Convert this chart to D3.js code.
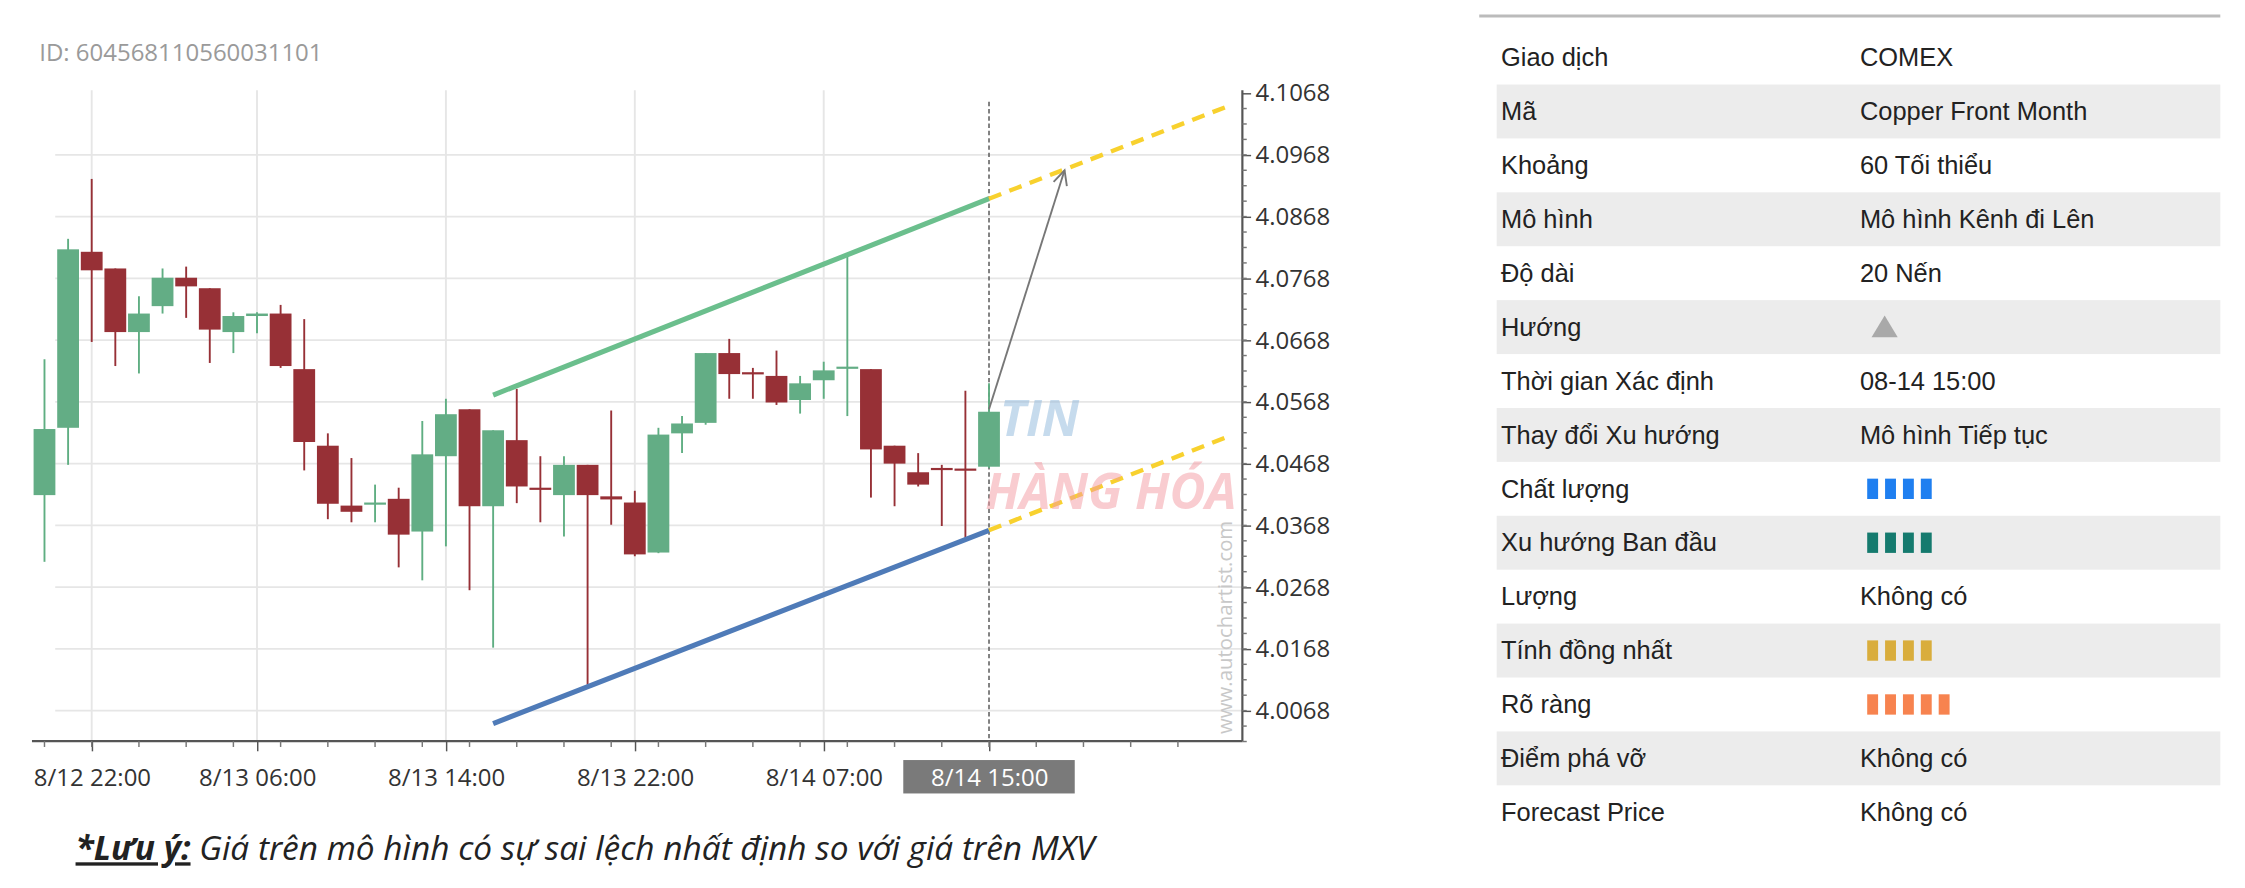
<!DOCTYPE html>
<html>
<head>
<meta charset="utf-8">
<script src="https://cdn.jsdelivr.net/npm/d3@7"></script>
<style>
  body { margin: 0; background: #fff; }
  text { font-family: "Open Sans", sans-serif; }
</style>
</head>
<body>
<div class="chart"></div>
<script>
// candle data (one per hour)
var opens  = [4.0417,4.0526,4.0811,4.0784,4.0681,4.0723,4.0769,4.0752,4.0681,4.0707,4.0711,4.0621,4.0497,4.0400,4.0403,4.0411,4.0358,4.0480,4.0556,4.0399,4.0506,4.0429,4.0417,4.0466,4.0415,4.0405,4.0324,4.0517,4.0534,4.0647,4.0616,4.0610,4.0571,4.0603,4.0623,4.0621,4.0497,4.0454,4.0461,4.0460,4.0463];
var highs  = [4.0637,4.0832,4.0929,4.0784,4.0739,4.0784,4.0787,4.0752,4.0713,4.0713,4.0725,4.0702,4.0517,4.0477,4.0434,4.0429,4.0537,4.0573,4.0556,4.0522,4.0589,4.0480,4.0480,4.0466,4.0554,4.0424,4.0526,4.0545,4.0647,4.0670,4.0623,4.0651,4.0610,4.0633,4.0804,4.0621,4.0497,4.0485,4.0466,4.0586,4.0598];
var lows   = [4.0309,4.0466,4.0665,4.0626,4.0614,4.0711,4.0704,4.0631,4.0647,4.0679,4.0623,4.0457,4.0378,4.0373,4.0373,4.0300,4.0279,4.0334,4.0263,4.0170,4.0404,4.0373,4.0350,4.0110,4.0369,4.0318,4.0323,4.0485,4.0531,4.0573,4.0573,4.0563,4.0549,4.0573,4.0545,4.0413,4.0399,4.0431,4.0367,4.0348,4.0461];
var closes = [4.0524,4.0815,4.0781,4.0681,4.0711,4.0769,4.0755,4.0685,4.0707,4.0711,4.0626,4.0503,4.0403,4.0390,4.0405,4.0353,4.0483,4.0548,4.0399,4.0522,4.0431,4.0426,4.0466,4.0417,4.0410,4.0321,4.0515,4.0533,4.0647,4.0613,4.0613,4.0567,4.0598,4.0619,4.0625,4.0491,4.0468,4.0434,4.0458,4.0457,4.0552];

var yTicks = [4.0068,4.0168,4.0268,4.0368,4.0468,4.0568,4.0668,4.0768,4.0868,4.0968,4.1068];
var xTickIdx = [2, 9, 17, 25, 33, 40];
var xTickLabels = ["8/12 22:00","8/13 06:00","8/13 14:00","8/13 22:00","8/14 07:00","8/14 15:00"];

// channel: [index, value]
var resistance = [[19, 4.0579], [40, 4.0897]];
var resistanceProj = [[40, 4.0897], [50, 4.1045]];
var support = [[19, 4.0047], [40, 4.0360]];
var supportProj = [[40, 4.0360], [50, 4.0510]];
var arrowPts = [[40, 4.0556], [43.2, 4.0943]];

var tableLabels = ["Giao dịch","Mã","Khoảng","Mô hình","Độ dài","Hướng","Thời gian Xác định","Thay đổi Xu hướng","Chất lượng","Xu hướng Ban đầu","Lượng","Tính đồng nhất","Rõ ràng","Điểm phá vỡ","Forecast Price"];
var tableValues = ["COMEX","Copper Front Month","60 Tối thiểu","Mô hình Kênh đi Lên","20 Nến","","08-14 15:00","Mô hình Tiếp tục","","","Không có","","","Không có","Không có"];
var barCounts = {8: 4, 9: 4, 11: 4, 12: 5};
var barColors = {8: "#1f7ff0", 9: "#157a6e", 11: "#d9ad3c", 12: "#f7834f"};

var svg = d3.select(".chart").append("svg")
  .attr("width", 2245).attr("height", 888)
  .attr("viewBox", "0 0 1545 611");

var plot = {left: 22, right: 855, top: 62, bottom: 510};

var x = d3.scaleLinear().domain([-0.53, 50.73]).range([plot.left, plot.right]);
var y = d3.scaleLinear().domain([4.1068, 4.0068]).range([64, 489]);

svg.append("text").attr("x", 27).attr("y", 42).attr("fill", "#9a9a9a")
  .style("font-size", "16.5px").text("ID: 604568110560031101");

// grid
svg.selectAll(".hg").data(yTicks.slice(0, -1)).enter().append("line")
  .attr("x1", 38).attr("x2", plot.right).attr("y1", d => y(d)).attr("y2", d => y(d))
  .attr("stroke", "#e6e6e6").attr("stroke-width", 1.3);
svg.selectAll(".vg").data(xTickIdx.slice(0, -1)).enter().append("line")
  .attr("x1", d => x(d)).attr("x2", d => x(d)).attr("y1", plot.top).attr("y2", plot.bottom)
  .attr("stroke", "#e6e6e6").attr("stroke-width", 1.3);

// watermark
svg.append("text").attr("transform", "translate(848,505) rotate(-90)")
  .attr("fill", "#c8c8c8").style("font-size", "14px").text("www.autochartist.com");

// right axis
var rightAxis = d3.axisRight(y).tickValues(yTicks).tickFormat(d3.format(".4f")).tickSize(6);
var ra = svg.append("g").attr("transform", `translate(${plot.right},0)`).call(rightAxis);
ra.select(".domain").attr("d", `M0,${plot.top}V${plot.bottom}`).attr("stroke", "#555").attr("stroke-width", 1.5);
ra.selectAll("text").style("font-size", "16.5px").attr("fill", "#333").attr("x", 9);
ra.selectAll(".tick line").attr("stroke", "#555");
var minor = d3.range(4.0068 - 0.005, 4.1068, 0.0025);
svg.selectAll(".mt").data(minor).enter().append("line")
  .attr("x1", plot.right).attr("x2", plot.right + 3).attr("y1", d => y(d)).attr("y2", d => y(d))
  .attr("stroke", "#777");

// bottom axis
var lastX = x(40);
svg.append("rect").attr("x", lastX - 59).attr("y", 523).attr("width", 118).attr("height", 23).attr("fill", "#7a7a7a");
var bottomAxis = d3.axisBottom(x).tickValues(xTickIdx).tickFormat((d, i) => xTickLabels[i]).tickSize(7);
var ba = svg.append("g").attr("transform", `translate(0,${plot.bottom})`).call(bottomAxis);
ba.select(".domain").attr("d", `M${plot.left},0H${plot.right}`).attr("stroke", "#555").attr("stroke-width", 1.5);
ba.selectAll(".tick line").attr("stroke", "#555");
ba.selectAll("text").style("font-size", "16.5px").attr("fill", "#333").attr("dy", "1.25em");
ba.selectAll(".tick").filter((d, i) => i === 5).select("text").attr("fill", "#fff");
svg.selectAll(".bm").data(d3.range(0, 50, 2)).enter().append("line")
  .attr("x1", d => x(d)).attr("x2", d => x(d)).attr("y1", plot.bottom).attr("y2", plot.bottom + 4)
  .attr("stroke", "#777");

// vertical dashed marker
svg.append("line").attr("x1", lastX).attr("x2", lastX).attr("y1", 70).attr("y2", plot.bottom)
  .attr("stroke", "#555").attr("stroke-dasharray", "3,2").attr("stroke-width", 1);

// candles
var candles = opens.map((o, i) => ({i: i, o: o, h: highs[i], l: lows[i], c: closes[i]}));
var cg = svg.append("g");
cg.selectAll(".wick").data(candles).enter().append("line")
  .attr("x1", d => x(d.i)).attr("x2", d => x(d.i)).attr("y1", d => y(d.h)).attr("y2", d => y(d.l))
  .attr("stroke", d => d.c >= d.o ? "#5fae82" : "#973036").attr("stroke-width", 1.3);
cg.selectAll(".body").data(candles).enter().append("rect")
  .attr("x", d => x(d.i) - 7.5).attr("width", 15)
  .attr("y", d => y(Math.max(d.o, d.c)))
  .attr("height", d => Math.max(1.5, Math.abs(y(d.o) - y(d.c))))
  .attr("fill", d => d.c >= d.o ? "#63ad85" : "#973036");

// channel lines
var line = d3.line().x(d => x(d[0])).y(d => y(d[1]));
svg.append("path").attr("d", line(resistance)).attr("stroke", "#6bbf8d").attr("stroke-width", 3.5).attr("fill", "none");
svg.append("path").attr("d", line(support)).attr("stroke", "#4f7bb8").attr("stroke-width", 3.5).attr("fill", "none");
[resistanceProj, supportProj].forEach(function(p) {
  svg.append("path").attr("d", line(p)).attr("stroke", "#f8d12e").attr("stroke-width", 3)
    .attr("stroke-dasharray", "9,6").attr("fill", "none");
});

// forecast arrow
var a0 = arrowPts[0], a1 = arrowPts[1];
svg.append("path").attr("d", line(arrowPts)).attr("stroke", "#777").attr("stroke-width", 1.3).attr("fill", "none");
var ang = Math.atan2(y(a1[1]) - y(a0[1]), x(a1[0]) - x(a0[0]));
var hx = x(a1[0]), hy = y(a1[1]);
svg.append("path")
  .attr("d", `M${hx - 11 * Math.cos(ang - 0.45)},${hy - 11 * Math.sin(ang - 0.45)}L${hx},${hy}L${hx - 11 * Math.cos(ang + 0.45)},${hy - 11 * Math.sin(ang + 0.45)}`)
  .attr("stroke", "#777").attr("stroke-width", 1.3).attr("fill", "none");

// logo watermark
var logo = svg.append("g").attr("opacity", 0.5);
logo.append("text").attr("x", 688).attr("y", 300).attr("fill", "#8fb8dc")
  .style("font-size", "34px").style("font-weight", "bold").style("font-style", "italic").text("TIN");
logo.append("text").attr("x", 678).attr("y", 350).attr("fill", "#f59aa2")
  .style("font-size", "34px").style("font-weight", "bold").style("font-style", "italic").text("HÀNG HÓA");

// note
var note = svg.append("text").attr("x", 52).attr("y", 592).style("font-size", "23px").style("font-style", "italic").attr("fill", "#222");
note.append("tspan").style("font-weight", "bold").style("text-decoration", "underline").text("*Lưu ý:");
note.append("tspan").text(" Giá trên mô hình có sự sai lệch nhất định so với giá trên MXV");

// info table
var tb = svg.append("g");
tb.append("line").attr("x1", 1018).attr("x2", 1528).attr("y1", 11).attr("y2", 11).attr("stroke", "#bbb").attr("stroke-width", 2);
var rowH = 37.1, row0 = 21;
tableLabels.forEach(function(lab, i) {
  var ry = row0 + i * rowH;
  if (i % 2 === 1) tb.append("rect").attr("x", 1030).attr("y", ry).attr("width", 498).attr("height", rowH).attr("fill", "#ececec");
  tb.append("text").attr("x", 1033).attr("y", ry + rowH / 2 + 6).style("font-size", "17.5px").attr("fill", "#222")
    .style("font-family", "'Liberation Sans', Arial, sans-serif").text(lab);
  tb.append("text").attr("x", 1280).attr("y", ry + rowH / 2 + 6).style("font-size", "17.5px").attr("fill", "#222")
    .style("font-family", "'Liberation Sans', Arial, sans-serif").text(tableValues[i]);
  if (barCounts[i]) {
    tb.selectAll(null).data(d3.range(barCounts[i])).enter().append("rect")
      .attr("x", d => 1285 + d * 12.3).attr("y", ry + rowH / 2 - 7).attr("width", 7.5).attr("height", 14)
      .attr("fill", barColors[i]);
  }
  if (i === 5) {
    tb.append("path").attr("d", `M1288,${ry + rowH / 2 + 7}L1297,${ry + rowH / 2 - 8}L1306,${ry + rowH / 2 + 7}Z`).attr("fill", "#a9a9a9");
  }
});
</script>
</body>
</html>
